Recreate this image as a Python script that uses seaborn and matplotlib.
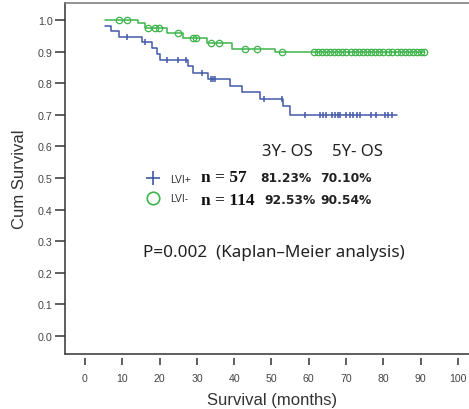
import numpy as np
import pandas as pd
import matplotlib
matplotlib.use("Agg")
import matplotlib.pyplot as plt
from matplotlib.lines import Line2D
import seaborn as sns

# LVI+ group: step times (months) and survival after each step
lvi_pos_t = [5.4, 7.1, 9.2, 15.2, 17.9, 19.2, 20.0, 27.7, 29.0, 33.0, 38.9, 42.0, 47.0, 53.0, 55.0, 83.6]
lvi_pos_s = [0.982, 0.965, 0.947, 0.929, 0.911, 0.892, 0.874, 0.856, 0.834, 0.813, 0.792, 0.771, 0.750, 0.728, 0.701, 0.701]
lvi_pos_cens = [11.2, 16.0, 21.9, 25.0, 27.1, 31.3, 33.8, 34.4, 34.9, 48.0, 52.7, 59.0,
                63.0, 63.9, 64.6, 66.1, 67.0, 67.9, 68.5, 70.1, 71.0, 71.9, 72.8, 73.7,
                76.8, 78.0, 80.4, 81.3, 82.2]

# LVI- group
lvi_neg_t = [5.4, 14.3, 16.1, 21.9, 26.3, 32.6, 39.3, 50.9, 91.0]
lvi_neg_s = [1.0, 0.991, 0.974, 0.959, 0.942, 0.927, 0.908, 0.898, 0.898]
lvi_neg_cens = [9.2, 11.2, 17.0, 18.8, 19.9, 25.0, 29.0, 29.8, 33.9, 36.0, 42.9, 46.0, 52.9,
                61.3, 62.4, 63.5, 64.6, 65.7, 66.8, 67.9, 69.0, 70.1, 71.2, 72.3, 73.4,
                74.5, 75.6, 76.7, 77.8, 78.9, 80.0, 81.2, 82.3, 83.6, 84.7, 85.8, 86.9,
                88.0, 89.1, 90.2, 91.0]

groups = ["LVI+", "LVI-"]
n_labels = ["n = 57", "n = 114"]
os3 = ["81.23%", "92.53%"]
os5 = ["70.10%", "90.54%"]
colors = {"LVI+": "#4158a8", "LVI-": "#3db54a"}

sns.set_theme(style="white")
plt.rcParams["font.family"] = ["Liberation Sans", "DejaVu Sans"]

df = pd.concat([
    pd.DataFrame({"time": lvi_pos_t, "surv": lvi_pos_s, "group": "LVI+"}),
    pd.DataFrame({"time": lvi_neg_t, "surv": lvi_neg_s, "group": "LVI-"}),
])

fig = plt.figure(figsize=(4.69, 4.10), dpi=100)
ax = fig.add_axes([65 / 469, 55 / 410, 415 / 469, 351 / 410])

sns.lineplot(data=df, x="time", y="surv", hue="group", palette=colors,
             drawstyle="steps-post", linewidth=1.1, legend=False, ax=ax,
             estimator=None, sort=True)


def level_at(times, surv, c):
    i = np.searchsorted(times, c, side="right") - 1
    return surv[max(i, 0)]


# censored cases
cy_pos = [level_at(lvi_pos_t, lvi_pos_s, c) for c in lvi_pos_cens]
cy_neg = [level_at(lvi_neg_t, lvi_neg_s, c) for c in lvi_neg_cens]
ax.plot(lvi_pos_cens, cy_pos, ls="none", marker="|", ms=4.8, mew=1.1, color=colors["LVI+"])
ax.plot(lvi_neg_cens, cy_neg, ls="none", marker="o", ms=4.6, mew=0.9, mfc="none",
        color=colors["LVI-"])

# axes range, mapped to the reference frame
ax.set_xlim(-5.36, 105.9)
ax.set_ylim(-0.057, 1.054)
ax.set_xticks(np.arange(0, 101, 10))
ax.set_yticks(np.arange(0, 1.01, 0.1))
ax.yaxis.set_major_formatter(plt.FormatStrFormatter("%.1f"))

ax.spines["right"].set_visible(False)
ax.spines["left"].set_color("#333333")
ax.spines["left"].set_linewidth(1.1)
ax.spines["top"].set_color("#777777")
ax.spines["top"].set_linewidth(1.1)
# x ticks sit a little below the axis line
ax.spines["bottom"].set_position(("outward", 3))
ax.spines["bottom"].set_visible(False)
ax.plot([0, 1], [0, 0], transform=ax.transAxes, color="#333333", lw=1.1, clip_on=False)

ax.tick_params(axis="y", direction="out", length=7, width=1.1, color="#333333",
               labelsize=7.7, labelcolor="#444444", pad=2, left=True)
ax.tick_params(axis="x", direction="out", length=5, width=1.1, color="#333333",
               labelsize=7.6, labelcolor="#444444", pad=6, bottom=True)

ax.set_xlabel("Survival (months)", fontsize=12, color="#333333", labelpad=6)
ax.set_ylabel("Cum Survival", fontsize=12, color="#333333", labelpad=8)

handles = [
    Line2D([], [], ls="none", marker="+", ms=10, mew=1.2, color=colors["LVI+"]),
    Line2D([], [], ls="none", marker="o", ms=9, mew=1.2, mfc="none", color=colors["LVI-"]),
]
ax.legend(handles, groups, loc="center left", bbox_to_anchor=(16.3, 0.467),
          bbox_transform=ax.transData, frameon=False, fontsize=7.5, handlelength=1.4,
          handletextpad=0.9, labelspacing=0.95, borderpad=0, borderaxespad=0,
          labelcolor="#333333")

ax.text(47.4, 0.585, "3Y- OS", fontsize=12, family=["Noto Sans"], color="#222222",
        ha="left", va="center")
ax.text(66.1, 0.585, "5Y- OS", fontsize=12, family=["Noto Sans"], color="#222222",
        ha="left", va="center")
rows_y = [0.502, 0.431]
os3_x = [46.9, 48.0]
for i in range(2):
    ax.text(31.1, rows_y[i], n_labels[i], fontsize=12.5, family=["Liberation Serif"],
            weight="bold", color="#111111", ha="left", va="center")
    ax.text(os3_x[i], rows_y[i], os3[i], fontsize=8.8, family=["DejaVu Sans"],
            weight="bold", color="#222222", ha="left", va="center")
    ax.text(63.0, rows_y[i], os5[i], fontsize=8.8, family=["DejaVu Sans"],
            weight="bold", color="#222222", ha="left", va="center")

ax.text(15.5, 0.267, "P=0.002  (Kaplan\u2013Meier analysis)", fontsize=12.3,
        family=["Noto Sans"], color="#222222", ha="left", va="center")

fig.savefig("out.png", dpi=100)
